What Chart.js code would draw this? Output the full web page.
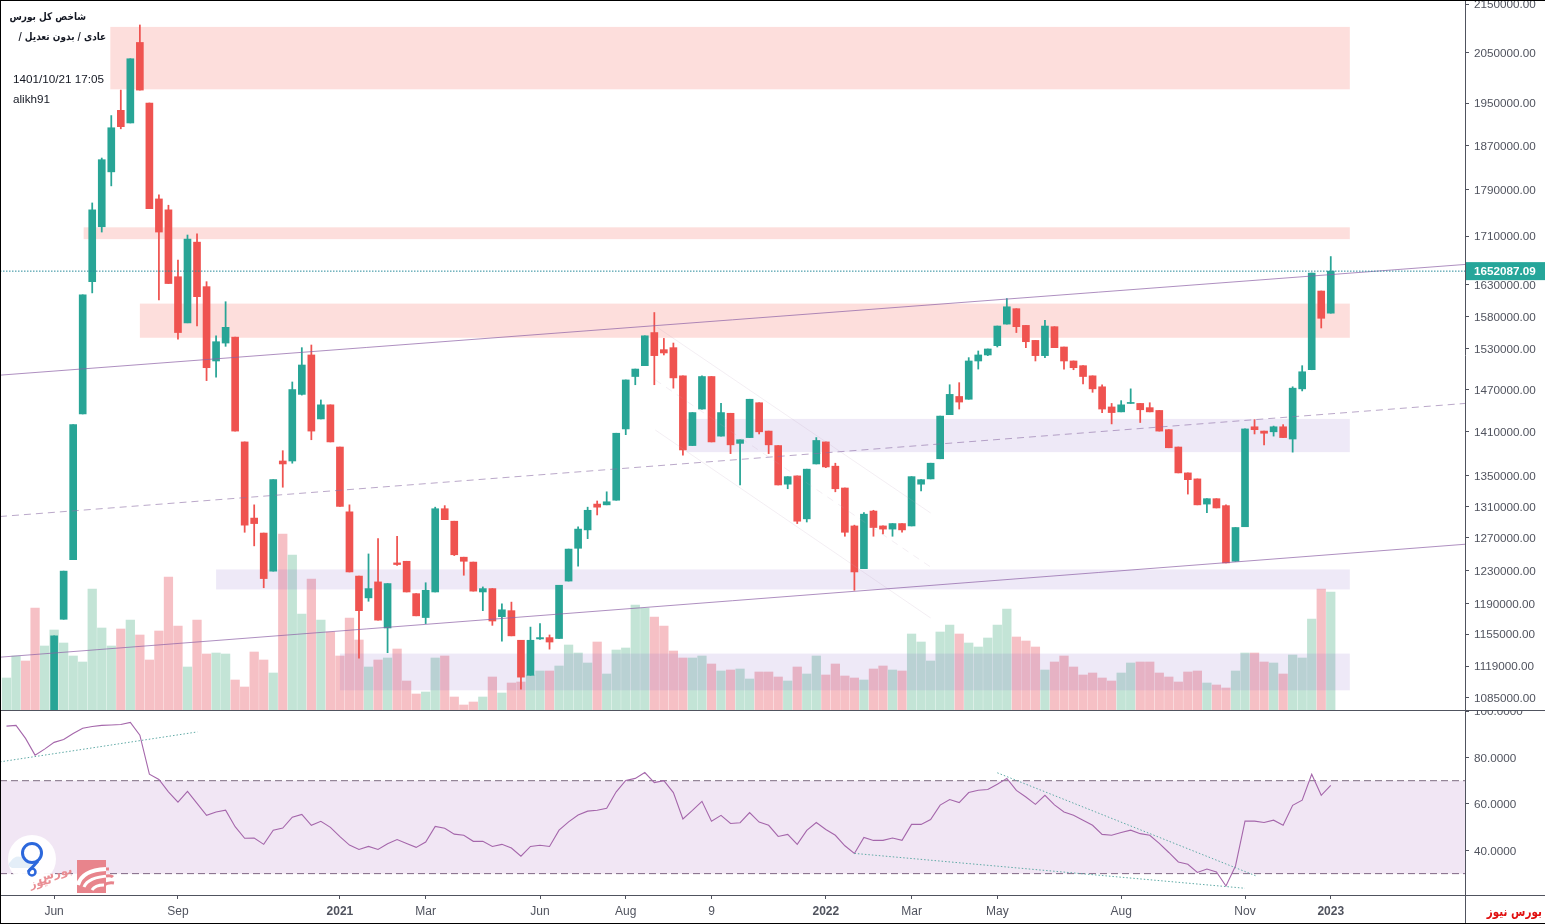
<!DOCTYPE html>
<html lang="fa">
<head>
<meta charset="utf-8">
<title>شاخص کل بورس</title>
<script src="https://cdn.jsdelivr.net/npm/chart.js@4/dist/chart.umd.min.js"></script>
<style>
    html, body { margin: 0; padding: 0; background: #fff; overflow: hidden; }
    #page { position: relative; width: 1545px; height: 924px; overflow: hidden; }
    canvas { position: absolute; left: 0; display: block; }
    #price-chart { top: 0; }
    #rsi-chart { top: 711px; }
    .rule { position: absolute; background: #50535e; }
    .frame { position: absolute; background: #000; }
    .note { position: absolute; font: 11.7px "Liberation Sans", sans-serif; color: #131722; white-space: nowrap; }
    .fa { font: bold 10.5px "DejaVu Sans", sans-serif; direction: rtl; transform: scaleX(0.85); transform-origin: right; }
    #source { position: absolute; right: 3px; top: 904px; font: bold 13px "DejaVu Sans", sans-serif; color: #e01010; direction: rtl; white-space: nowrap; transform: scaleX(0.8); transform-origin: right; }
    #logo { position: absolute; left: 0; top: 825px; }
</style>
</head>
<body>
<div id="page">
    <canvas id="price-chart" width="1545" height="710"></canvas>
    <canvas id="rsi-chart" width="1545" height="213"></canvas>

    <div class="rule" style="left:0;top:710px;width:1545px;height:1px"></div>
    <div class="rule" style="left:0;top:895px;width:1545px;height:1px"></div>
    <div class="rule" style="left:1465px;top:895px;width:1px;height:29px"></div>
    <div class="frame" style="left:0;top:0;width:1545px;height:1px"></div>
    <div class="frame" style="left:0;top:0;width:1px;height:924px"></div>
    <div class="frame" style="left:0;top:923px;width:1545px;height:1px"></div>

    <div class="note fa" style="right:1459px;top:10px">شاخص کل بورس</div>
    <div class="note fa" style="right:1439px;top:30px">عادی / بدون تعدیل /</div>
    <div class="note" style="left:13px;top:72px">1401/10/21 17:05</div>
    <div class="note" style="left:13px;top:92px">alikh91</div>
    <div id="source">بورس نیوز</div>

    <svg id="logo" width="120" height="70" viewBox="0 0 120 70">
        <circle cx="32" cy="34" r="24" fill="#fff" opacity="0.95"/>
        <path d="M11 36 q4 -6 10 -4 q6 -1 8 5 q4 1 3 6 h-20 q-6 -3 -1 -7z" fill="#e4eef8"/>
        <circle cx="32" cy="28" r="9.5" fill="none" stroke="#2c67dc" stroke-width="3"/>
        <path d="M38 36 L28 47" fill="none" stroke="#2c67dc" stroke-width="3"/>
        <circle cx="32" cy="47" r="3.5" fill="none" stroke="#2c67dc" stroke-width="2.5"/>
        <text x="73" y="48" font-family="DejaVu Sans" font-size="12" font-weight="bold" fill="#e98d93" text-anchor="start" direction="rtl" transform="rotate(-14 73 48)">بورس</text>
        <text x="52" y="58" font-family="DejaVu Sans" font-size="11" font-weight="bold" fill="#e98d93" text-anchor="start" direction="rtl" transform="rotate(-14 52 58)">نیوز</text>
        <rect x="77" y="35" width="29" height="33" fill="#e8848c"/>
        <path d="M78 60 q4 -15 28 -16" fill="none" stroke="#fff" stroke-width="4"/>
        <path d="M84 62 q4 -10 25 -11" fill="none" stroke="#fff" stroke-width="3"/>
        <path d="M106 44 h3 M106 51 q5 -1 7 1 M104 60 q4 -3 10 -2" fill="none" stroke="#e8848c" stroke-width="3"/>
        <path d="M92 65 q3 -5 12 -5" fill="none" stroke="#fff" stroke-width="3"/>
    </svg>
</div>

<script>
// all prices are in thousands of index points, volumes in the relative units of the hidden axis
const priceTicks = [2150, 2050, 1950, 1870, 1790, 1710, 1630, 1580, 1530, 1470, 1410, 1350, 1310, 1270, 1230, 1190, 1155, 1119, 1085];
const rsiTicks = [100, 80, 60, 40];
const dateTicks = [5, 18, 35, 44, 56, 65, 74, 86, 95, 104, 117, 130, 139];
const dateLabels = ['Jun', 'Sep', '2021', 'Mar', 'Jun', 'Aug', '9', '2022', 'Mar', 'May', 'Aug', 'Nov', '2023'];

// the first five weeks have a volume bar and an RSI point but their candles are below the visible range
const firstCandle = 5;
const earlyVolumeUp = [true, true, false, false, true];

const opens = [
    1040, 1172, 1243, 1435, 1635, 1726, 1822, 1936, 1912, 2070,
    1950, 1774, 1755, 1643, 1570, 1700, 1627, 1512, 1539, 1548,
    1396, 1295, 1276, 1229, 1370, 1370, 1463, 1521, 1428, 1448,
    1389, 1303, 1223, 1197, 1216, 1162, 1239, 1241, 1202, 1174,
    1204, 1307, 1291, 1246, 1240, 1204, 1208, 1175, 1182, 1148,
    1109, 1149.5, 1151, 1150, 1217, 1257, 1280, 1313, 1312, 1318,
    1414, 1489, 1505, 1555, 1529, 1532, 1490, 1391, 1442, 1489,
    1404, 1436, 1394, 1402, 1451, 1411, 1391, 1339, 1350, 1294,
    1366, 1396, 1363, 1334, 1285, 1232, 1304, 1285, 1281, 1288,
    1285, 1339, 1346, 1373, 1434, 1460, 1456, 1512, 1521, 1535,
    1568, 1592, 1566, 1543, 1520, 1564, 1533, 1512, 1505, 1490,
    1474, 1445, 1438, 1450, 1450, 1444, 1440, 1413, 1389, 1354,
    1346, 1313, 1320, 1311, 1241, 1284, 1417, 1411, 1410, 1417,
    1400, 1471, 1499, 1620, 1585
];
const highs = [
    1153, 1229, 1420, 1614, 1767, 1847, 1926, 1975, 2037, 2106,
    1950, 1781, 1763, 1670, 1712, 1714, 1635, 1550, 1603, 1548,
    1396, 1312, 1276, 1345, 1384, 1481, 1532, 1536, 1455, 1448,
    1389, 1312, 1223, 1250, 1269, 1214, 1272, 1241, 1202, 1215,
    1309, 1311, 1291, 1246, 1240, 1210, 1208, 1190, 1192, 1148,
    1163, 1167, 1154, 1212, 1256, 1284, 1309, 1317, 1329, 1408,
    1484, 1500, 1550, 1586, 1546, 1539, 1490, 1437, 1490, 1489,
    1450, 1436, 1399, 1456, 1451, 1411, 1391, 1349, 1350, 1359,
    1402, 1396, 1367, 1334, 1286, 1302, 1305, 1285, 1288, 1288,
    1349, 1345, 1367, 1432, 1477, 1480, 1517, 1527, 1530, 1565,
    1608, 1592, 1566, 1543, 1574, 1564, 1533, 1512, 1505, 1490,
    1477, 1450, 1454, 1471, 1450, 1451, 1440, 1413, 1389, 1354,
    1346, 1320, 1320, 1312, 1283, 1414, 1427, 1411, 1418, 1420,
    1474, 1505, 1649, 1620, 1676
];
const lows = [
    1040, 1172, 1243, 1435, 1617, 1717, 1797, 1901, 1912, 1975,
    1757, 1606, 1632, 1545, 1570, 1565, 1483, 1488, 1534, 1411,
    1277, 1260, 1209, 1229, 1335, 1367, 1462, 1399, 1428, 1396,
    1310, 1228, 1128, 1193, 1171, 1134, 1236, 1204, 1176, 1167,
    1204, 1293, 1248, 1224, 1205, 1182, 1165, 1147, 1153, 1094,
    1109, 1149, 1138, 1150, 1217, 1235, 1269, 1299, 1312, 1318,
    1406, 1477, 1505, 1477, 1521, 1472, 1378, 1391, 1442, 1396,
    1404, 1380, 1338, 1402, 1407, 1380, 1338, 1333, 1288, 1290,
    1366, 1361, 1329, 1272, 1206, 1232, 1272, 1275, 1272, 1277,
    1285, 1330, 1346, 1373, 1434, 1442, 1456, 1500, 1520, 1533,
    1568, 1555, 1532, 1512, 1517, 1532, 1500, 1499, 1478, 1466,
    1437, 1421, 1438, 1450, 1423, 1438, 1411, 1388, 1354, 1326,
    1312, 1302, 1308, 1239, 1241, 1284, 1407, 1392, 1404, 1402,
    1382, 1468, 1499, 1562, 1585
];
const closes = [
    1153, 1229, 1420, 1614, 1755, 1844, 1903, 1905, 2037, 1975,
    1757, 1717, 1632, 1555, 1705, 1611, 1502, 1541, 1563, 1411,
    1286, 1288, 1220, 1345, 1366, 1470, 1506, 1411, 1448, 1396,
    1310, 1228, 1182, 1208, 1171, 1214, 1237, 1204, 1176, 1206,
    1307, 1293, 1249, 1241, 1205, 1208, 1170, 1183, 1153, 1107,
    1148, 1151, 1146, 1212, 1256, 1281, 1305, 1309, 1316, 1408,
    1484, 1500, 1550, 1520, 1524, 1487, 1385, 1437, 1489, 1396,
    1437, 1392, 1399, 1456, 1410, 1392, 1338, 1349, 1291, 1359,
    1398, 1362, 1333, 1277, 1228, 1300, 1283, 1281, 1288, 1280,
    1349, 1345, 1367, 1432, 1463, 1452, 1512, 1521, 1530, 1565,
    1595, 1564, 1541, 1520, 1565, 1532, 1512, 1502, 1489, 1471,
    1442, 1437, 1448, 1451, 1441, 1438, 1411, 1388, 1354, 1345,
    1312, 1320, 1308, 1239, 1283, 1414, 1413, 1408, 1417, 1402,
    1472, 1496, 1649, 1577, 1652.08709
];
const volumes = [
    32, 54, 49, 102, 64, 80, 67, 54, 48, 121,
    82, 64, 81, 90, 75, 50, 79, 133, 84, 43,
    90, 56, 57, 56, 30, 23, 58, 50, 37, 176,
    155, 96, 131, 90, 78, 54, 92, 70, 43, 50,
    52, 61, 29, 16, 18, 52, 54, 13, 5, 8,
    13, 33, 17, 27, 28, 35, 39, 39, 44, 65,
    57, 47, 68, 36, 60, 62, 105, 102, 93, 84,
    59, 52, 52, 54, 46, 39, 40, 41, 31, 38,
    38, 33, 29, 43, 36, 54, 35, 46, 34, 32,
    30, 41, 44, 40, 39, 76, 68, 49, 78, 85,
    76, 67, 63, 72, 85, 101, 73, 69, 63, 40,
    48, 54, 43, 35, 37, 32, 29, 37, 47, 48,
    48, 37, 33, 28, 38, 39, 27, 25, 22, 39,
    57, 57, 48, 47, 36, 55, 52, 91, 121, 118
];
const rsiValues = [
    93.5, 93.8, 88.2, 81.0, 83.6, 86.5, 87.7, 90.3, 92.6, 93.3,
    93.8, 94.0, 94.2, 95.1, 89.6, 72.8, 70.5, 65.2, 60.8, 65.4,
    60.2, 55.1, 56.5, 57.3, 50.2, 45.2, 45.3, 42.6, 48.7, 49.6,
    54.3, 55.5, 50.8, 52.5, 49.9, 45.9, 42.3, 40.4, 41.7, 40.4,
    42.9, 44.7, 43.0, 41.3, 43.6, 50.3, 49.5, 47.0, 46.5, 43.9,
    43.9, 41.7, 42.6, 41.0, 37.5, 41.7, 42.2, 41.7, 48.7, 52.3,
    55.2, 56.9, 57.3, 58.1, 65.2, 70.1, 71.0, 73.5, 69.2, 70.0,
    64.9, 53.5, 57.2, 61.1, 52.6, 55.1, 51.6, 51.9, 56.3, 52.2,
    50.8, 46.0, 46.9, 42.6, 48.6, 52.0, 49.0, 46.5, 42.0, 38.7,
    45.6, 44.3, 44.3, 45.3, 44.3, 51.2, 51.2, 53.3, 59.5, 61.9,
    60.6, 64.9, 65.9, 66.2, 68.5, 71.0, 65.8, 63.0, 59.8, 63.7,
    59.6, 56.5, 55.1, 53.0, 50.8, 46.9, 46.5, 47.7, 48.7, 47.2,
    46.5, 43.0, 39.1, 35.0, 34.0, 30.5, 32.0, 30.7, 24.7, 33.3,
    52.6, 52.6, 52.0, 53.0, 50.8, 59.4, 61.6, 72.8, 63.7, 68.0
];

// shaded zones on the price panel: week range and price range
const zoneFrom = [10.9, 8.1, 14, 71.4, 22, 35];
const zoneTo = [141, 141, 141, 141, 141, 141];
const zoneHigh = [2102, 1725, 1600, 1428, 1231, 1133];
const zoneLow = [1976.5, 1705, 1547, 1382, 1207, 1092.7];
const zoneIsPink = [true, true, true, false, false, false];

// week and price of the ends of the channel lines
const xStart = -0.68;
const xEnd = 153.09;
const channelTop = [1491, 1663];
const channelMiddle = [1297, 1450];
const channelBottom = [1129, 1262];
const fadedFrom = [68.3, 68.1, 68.1];
const fadedTo = [97, 97, 97];
const fadedStart = [1563, 1484, 1412.5];
const fadedEnd = [1301.5, 1234, 1173.5];

// RSI panel
const rsiUpper = 70;
const rsiLower = 30;
const rsiTrendFrom = [-0.68, 104, 89];
const rsiTrendTo = [20.05, 131.1, 130];
const rsiTrendStart = [78.1, 73.4, 38.7];
const rsiTrendEnd = [91.0, 29.1, 23.7];

const GREEN = '#28a596';
const RED = '#ef5350';
const VOL_GREEN = '#c3e4d6';
const VOL_RED = '#f6c0c5';
const AXIS_TEXT = '#50535e';
const AXIS_FONT = { family: '"Liberation Sans", sans-serif', size: 11.7 };

const lastClose = closes[closes.length - 1];
const isUp = i => closes[i] >= opens[i];
const volumeUp = i => (i < firstCandle ? earlyVolumeUp[i] : isUp(i - firstCandle));

// fixed axis box, no extra room for half labels at the ends
function fixAxisSize(axis) {
    if (axis.isHorizontal()) axis.height = 29;
    else axis.width = 80;
    axis.paddingTop = axis.paddingBottom = axis.paddingLeft = axis.paddingRight = 0;
}

function segment(x0, x1, y0, y1, color, width, dash, order) {
    return {
        type: 'line',
        yAxisID: 'y',
        data: [{ x: x0, y: y0 }, { x: x1, y: y1 }],
        borderColor: color,
        borderWidth: width,
        borderDash: dash || [],
        pointRadius: 0,
        tension: 0,
        fill: false,
        order: order
    };
}

const zonePlugin = {
    id: 'zones',
    beforeDatasetDraw(chart, args) {
        if (chart.data.datasets[args.index].label !== 'wicks') return;
        const { ctx, chartArea, scales } = chart;
        ctx.save();
        ctx.beginPath();
        ctx.rect(chartArea.left, chartArea.top, chartArea.width, chartArea.height);
        ctx.clip();
        zoneFrom.forEach((from, i) => {
            const left = scales.x.getPixelForValue(from);
            const right = scales.x.getPixelForValue(zoneTo[i]);
            const top = scales.y.getPixelForValue(zoneHigh[i]);
            const bottom = scales.y.getPixelForValue(zoneLow[i]);
            ctx.fillStyle = zoneIsPink[i] ? 'rgba(247, 100, 90, 0.21)' : 'rgba(126, 87, 194, 0.13)';
            ctx.fillRect(left, top, right - left, bottom - top);
        });
        ctx.restore();
    }
};

const lastPricePlugin = {
    id: 'lastPrice',
    afterDraw(chart) {
        const { ctx, scales } = chart;
        const y = scales.y.getPixelForValue(lastClose);
        ctx.save();
        ctx.fillStyle = '#26a69a';
        ctx.fillRect(1466, y - 9, 79, 18);
        ctx.fillStyle = '#fff';
        ctx.font = 'bold 11.7px "Liberation Sans", sans-serif';
        ctx.textBaseline = 'middle';
        ctx.textAlign = 'left';
        ctx.fillText((lastClose * 1000).toFixed(2), 1474, y + 0.5);
        ctx.restore();
    }
};

const candleIndex = opens.map((_, i) => i + firstCandle);

const priceDatasets = [
    {
        type: 'bar',
        label: 'volume',
        yAxisID: 'yVol',
        data: volumes.map((v, i) => ({ x: i, y: v })),
        backgroundColor: volumes.map((_, i) => (volumeUp(i) ? VOL_GREEN : VOL_RED)),
        barThickness: 8.6,
        grouped: false,
        order: 9
    },
    {
        type: 'bar',
        label: 'wicks',
        yAxisID: 'y',
        data: candleIndex.map((x, i) => ({ x: x, y: [lows[i], highs[i]] })),
        backgroundColor: opens.map((_, i) => (isUp(i) ? GREEN : RED)),
        barThickness: 1.1,
        grouped: false,
        order: 8
    },
    {
        type: 'bar',
        label: 'bodies',
        yAxisID: 'y',
        data: candleIndex.map((x, i) => ({ x: x, y: [opens[i], closes[i]] })),
        backgroundColor: opens.map((_, i) => (isUp(i) ? GREEN : RED)),
        barThickness: 7,
        minBarLength: 1,
        grouped: false,
        order: 7
    },
    segment(xStart, xEnd, channelTop[0], channelTop[1], 'rgba(140, 95, 165, 0.7)', 1, null, 3),
    segment(xStart, xEnd, channelMiddle[0], channelMiddle[1], 'rgba(140, 110, 165, 0.6)', 1, [7, 5], 3),
    segment(xStart, xEnd, channelBottom[0], channelBottom[1], 'rgba(140, 95, 165, 0.7)', 1, null, 3),
    segment(xStart, xEnd, lastClose, lastClose, '#26899a', 1, [1.5, 1.5], 2)
];
fadedFrom.forEach((from, i) => {
    priceDatasets.push(segment(from, fadedTo[i], fadedStart[i], fadedEnd[i], 'rgba(190, 160, 190, 0.18)', 1, i === 1 ? [7, 6] : null, 4));
});

new Chart(document.getElementById('price-chart'), {
    data: { datasets: priceDatasets },
    plugins: [zonePlugin, lastPricePlugin],
    options: {
        responsive: false,
        animation: false,
        devicePixelRatio: 1,
        layout: { padding: 0 },
        plugins: { legend: { display: false }, tooltip: { enabled: false } },
        events: [],
        scales: {
            x: { type: 'linear', display: false, min: xStart, max: xEnd, offset: false },
            yVol: { type: 'linear', display: false, min: 0, max: 710 },
            y: {
                type: 'logarithmic',
                position: 'right',
                min: 1071.7,
                max: 2158.5,
                afterBuildTicks: axis => { axis.ticks = priceTicks.map(v => ({ value: v })); },
                afterFit: fixAxisSize,
                border: { display: true, color: AXIS_TEXT },
                grid: { drawOnChartArea: false, tickColor: AXIS_TEXT, tickLength: 4 },
                ticks: {
                    autoSkip: false,
                    padding: 5,
                    labelOffset: 1,
                    color: AXIS_TEXT,
                    font: AXIS_FONT,
                    callback: v => (v * 1000).toFixed(2)
                }
            }
        }
    }
});

const rsiDatasets = [
    segment(xStart, xEnd, rsiUpper, rsiUpper, '#7d6a80', 1, [7, 4], 5),
    segment(xStart, xEnd, rsiLower, rsiLower, '#7d6a80', 1, [7, 4], 5),
    {
        type: 'line',
        yAxisID: 'y',
        data: rsiValues.map((v, i) => ({ x: i, y: v })),
        borderColor: '#a567ab',
        borderWidth: 1.1,
        pointRadius: 0,
        tension: 0,
        fill: false,
        order: 3
    }
];
// the band between 70 and 30
rsiDatasets[0].fill = '+1';
rsiDatasets[0].backgroundColor = 'rgba(150, 60, 170, 0.13)';
rsiTrendFrom.forEach((from, i) => {
    rsiDatasets.push(segment(from, rsiTrendTo[i], rsiTrendStart[i], rsiTrendEnd[i], '#5fa9a5', 1, [1.5, 2], 2));
});

new Chart(document.getElementById('rsi-chart'), {
    data: { datasets: rsiDatasets },
    options: {
        responsive: false,
        animation: false,
        devicePixelRatio: 1,
        layout: { padding: 0 },
        plugins: { legend: { display: false }, tooltip: { enabled: false } },
        events: [],
        scales: {
            x: {
                type: 'linear',
                min: xStart,
                max: xEnd,
                offset: false,
                afterBuildTicks: axis => { axis.ticks = dateTicks.map(v => ({ value: v })); },
                afterFit: fixAxisSize,
                border: { display: false },
                grid: { drawOnChartArea: false, tickColor: AXIS_TEXT, tickLength: 4 },
                ticks: {
                    autoSkip: false,
                    maxRotation: 0,
                    padding: 5,
                    color: AXIS_TEXT,
                    font: ctx => ({
                        family: AXIS_FONT.family,
                        size: 12,
                        weight: ctx.tick && dateLabels[dateTicks.indexOf(ctx.tick.value)].length === 4 ? 'bold' : 'normal'
                    }),
                    callback: v => dateLabels[dateTicks.indexOf(v)]
                }
            },
            y: {
                type: 'linear',
                position: 'right',
                min: 20.8,
                max: 100,
                afterBuildTicks: axis => { axis.ticks = rsiTicks.map(v => ({ value: v })); },
                afterFit: fixAxisSize,
                border: { display: true, color: AXIS_TEXT },
                grid: { drawOnChartArea: false, tickColor: AXIS_TEXT, tickLength: 4 },
                ticks: {
                    autoSkip: false,
                    padding: 5,
                    labelOffset: 1,
                    color: AXIS_TEXT,
                    font: AXIS_FONT,
                    callback: v => Number(v).toFixed(4)
                }
            }
        }
    }
});
</script>
</body>
</html>
